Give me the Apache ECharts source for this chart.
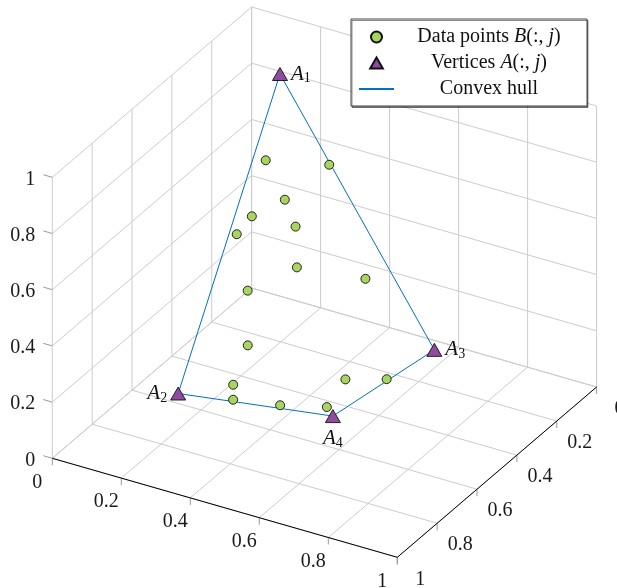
<!DOCTYPE html>
<html>
<head>
<meta charset="utf-8">
<script src="https://cdn.jsdelivr.net/npm/echarts@6/dist/echarts.min.js"></script>
<style>
  html, body { margin: 0; padding: 0; background: #fff; }
  #chart { width: 617px; height: 588px; }
</style>
</head>
<body>
<div id="chart"></div>
<script>
// axis ticks (same on x, y and z)
const ticks = [0, 0.2, 0.4, 0.6, 0.8, 1];
const tickLabels = ['0', '0.2', '0.4', '0.6', '0.8', '1'];

// data points B(:,j)
const pointX = [0.22, 0.355, 0.276, 0.211, 0.332, 0.188, 0.367, 0.509, 0.248, 0.28, 0.277, 0.507, 0.596, 0.315, 0.431, 0.537];
const pointY = [0.31, 0.225, 0.311, 0.364, 0.354, 0.4, 0.408, 0.31, 0.449, 0.504, 0.572, 0.407, 0.354, 0.638, 0.603, 0.552];
const pointZ = [0.72, 0.7, 0.6, 0.55, 0.55, 0.5, 0.45, 0.4, 0.35, 0.2, 0.1, 0.1, 0.1, 0.1, 0.1, 0.1];

// vertices A(:,j), j = 1..4
const vertexX = [0.196, 0.18, 0.625, 0.573];
const vertexY = [0.197, 0.68, 0.165, 0.584];
const vertexZ = [0.95, 0.1, 0.1, 0.1];

// order in which the hull edges are drawn (A2 - A1 - A3 - A4 - A2)
const hullOrder = [1, 0, 2, 3, 1];

const FONT = '"Liberation Serif", "DejaVu Serif", serif';

// 3d view: where the origin lands and how each unit axis is drawn
const view = { ox: 251.6, oy: 288, ex: [345, 99], ey: [-199.3, 170.3], ez: [0, -281] };
function proj(x, y, z) {
  return [
    view.ox + view.ex[0] * x + view.ey[0] * y + view.ez[0] * z,
    view.oy + view.ex[1] * x + view.ey[1] * y + view.ez[1] * z
  ];
}
function seg(a, b) {
  const p = proj(a[0], a[1], a[2]);
  const q = proj(b[0], b[1], b[2]);
  return [p[0], p[1], q[0], q[1]];
}

// grid on the floor and the two back walls
const gridSegs = [];
ticks.forEach(t => {
  gridSegs.push(seg([t, 0, 0], [t, 1, 0]));
  gridSegs.push(seg([0, t, 0], [1, t, 0]));
  gridSegs.push(seg([0, t, 0], [0, t, 1]));
  gridSegs.push(seg([0, 0, t], [0, 1, t]));
  gridSegs.push(seg([t, 0, 0], [t, 0, 1]));
  gridSegs.push(seg([0, 0, t], [1, 0, t]));
});
const tickSegs = [];
ticks.forEach(t => {
  tickSegs.push(seg([t, 1, 0], [t, 1, -0.025]));
  tickSegs.push(seg([1, t, 0], [1, t, -0.025]));
  tickSegs.push(seg([0, 1, t], [-0.026, 1, t]));
});
const axisSegs = [seg([0, 1, 0], [1, 1, 0]), seg([1, 1, 0], [1, 0, 0])];

function segSeries(data, color, width, z) {
  return {
    type: 'custom', data, silent: true, z, clip: false,
    encode: { x: [0, 2], y: [1, 3] },
    renderItem(params, api) {
      const p = api.coord([api.value(0), api.value(1)]);
      const q = api.coord([api.value(2), api.value(3)]);
      return {
        type: 'line',
        shape: { x1: p[0], y1: p[1], x2: q[0], y2: q[1] },
        style: { stroke: color, lineWidth: width }
      };
    }
  };
}

function labelSeries(pos, align, dx, dy) {
  return {
    type: 'custom', data: pos, silent: true, z: 3, clip: false,
    renderItem(params, api) {
      const p = api.coord([api.value(0), api.value(1)]);
      return {
        type: 'text', x: p[0] + dx, y: p[1] + dy,
        style: {
          text: tickLabels[params.dataIndex], fill: '#1a1a1a',
          fontFamily: FONT, fontSize: 20, align, verticalAlign: 'middle'
        }
      };
    }
  };
}

const points = pointX.map((x, i) => proj(x, pointY[i], pointZ[i]));
const verts = vertexX.map((x, i) => proj(x, vertexY[i], vertexZ[i]));
const vertexLabelPos = ['right', 'left', 'right', 'bottom'];

const legendText = {
  'Data points': '{n|Data points }{i|B}{n|(:, }{i|j}{n|)}',
  'Vertices': '{n|Vertices }{i|A}{n|(:, }{i|j}{n|)}',
  'Convex hull': '{n|Convex hull}'
};

const chart = echarts.init(document.getElementById('chart'), null, { renderer: 'canvas' });
chart.setOption({
  animation: false,
  backgroundColor: '#fff',
  grid: { left: 0, right: 0, top: 0, bottom: 0 },
  xAxis: { type: 'value', min: 0, max: 617, show: false },
  yAxis: { type: 'value', min: 0, max: 588, inverse: true, show: false },
  legend: {
    orient: 'vertical', left: 351, top: 19,
    itemWidth: 35, itemHeight: 11, itemGap: 6,
    padding: [8, 8, 7, 7],
    symbolKeepAspect: true,
    backgroundColor: '#fff', borderColor: '#444', borderWidth: 1,
    shadowColor: 'rgba(0,0,0,0.45)', shadowOffsetX: 1, shadowOffsetY: 1.5,
    data: [
      { name: 'Data points' },
      { name: 'Vertices', icon: 'path://M7.5,0L15,13L0,13Z' },
      { name: 'Convex hull', itemStyle: { opacity: 0 } }
    ],
    formatter: name => legendText[name],
    textStyle: {
      width: 180, lineHeight: 20, color: '#111',
      rich: {
        n: { align: 'center', fontFamily: FONT, fontSize: 20, color: '#111' },
        i: { align: 'center', fontFamily: FONT, fontSize: 20, fontStyle: 'italic', color: '#111' }
      }
    }
  },
  series: [
    segSeries(gridSegs, '#cccccc', 1, 1),
    segSeries(tickSegs, '#9a9a9a', 1, 1),
    segSeries(axisSegs, '#000', 1, 2),
    labelSeries(ticks.map(t => proj(t, 1, 0)), 'center', -15, 24),
    labelSeries(ticks.map(t => proj(1, t, 0)), 'center', 23, 22),
    labelSeries(ticks.map(t => proj(0, 1, t)), 'right', -17, 2),
    {
      name: 'Convex hull', type: 'line', z: 4,
      data: hullOrder.map(k => verts[k]),
      symbol: 'none', silent: true,
      lineStyle: { color: '#0072bd', width: 1 },
      itemStyle: { color: '#0072bd' }
    },
    {
      name: 'Data points', type: 'scatter', z: 5,
      data: points, symbol: 'circle', symbolSize: 9, silent: true,
      itemStyle: { color: '#a7d560', borderColor: '#111', borderWidth: 0.9, opacity: 1 }
    },
    {
      name: 'Vertices', type: 'scatter', z: 6, silent: true,
      symbol: 'triangle', symbolSize: [15, 13],
      itemStyle: { color: '#8f4ba0', borderColor: '#111', borderWidth: 0.9, opacity: 1 },
      data: verts.map((p, i) => ({
        value: p,
        label: { position: vertexLabelPos[i], distance: vertexLabelPos[i] === 'bottom' ? 5 : 3 }
      })),
      label: {
        show: true,
        formatter: p => '{a|A}{s|' + (p.dataIndex + 1) + '}',
        rich: {
          a: { fontFamily: FONT, fontSize: 21, fontStyle: 'italic', color: '#111', lineHeight: 21, verticalAlign: 'top' },
          s: { fontFamily: FONT, fontSize: 14, color: '#111', lineHeight: 14, padding: [8, 0, 0, 0], verticalAlign: 'top' }
        }
      }
    }
  ]
});
</script>
</body>
</html>
